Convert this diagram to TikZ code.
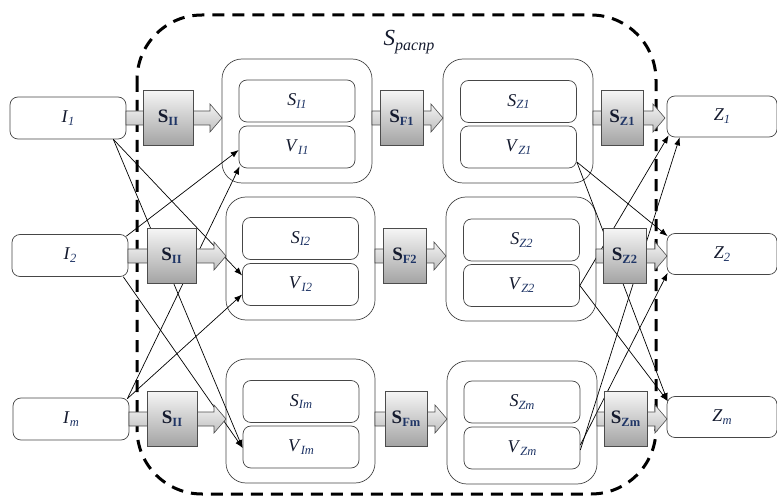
\documentclass[tikz,border=0pt]{standalone}
\usepackage{fontspec}
\setmainfont{Liberation Serif}
\usetikzlibrary{calc,arrows.meta}
\definecolor{navy}{HTML}{1F3566}
\definecolor{ink}{HTML}{141A2E}
\newcommand{\sublab}[2]{\textit{#1}\raisebox{-0.35ex}{\fontsize{12.5}{12.5}\selectfont\color{navy}\textit{#2}}}
\newcommand{\boldlab}[2]{\textbf{#1}\raisebox{-0.3ex}{\fontsize{12.5}{12.5}\selectfont\color{navy}\textbf{#2}}}
\tikzset{
  box/.style={draw=gray!55!black, line width=0.7pt, rounded corners=8pt, fill=white,
    minimum width=116pt, minimum height=42pt, inner sep=0pt,
    font=\fontsize{18}{21}\selectfont, text=ink},
  zbox/.style={box, minimum width=110pt, minimum height=41pt},
  group/.style={draw=gray!55!black, line width=0.7pt, rounded corners=20pt,
    inner sep=0pt},
  link/.style={-{Latex[length=8pt,width=6pt]}, line width=0.7pt, black},
  border/.style={line width=3pt, dash pattern=on 12pt off 8pt, rounded corners=65pt},
  shaftstyle/.style={top color=gray!10, bottom color=gray!50, draw=gray!60!black, line width=0.6pt},
  blockstyle/.style={top color=gray!8, bottom color=gray!72, draw=gray!60!black, line width=0.6pt},
  blabel/.style={font=\fontsize{19}{21}\selectfont, inner sep=0pt, text=ink}
}
% #1 name, #2 shaft start x, #3 box left, #4 box right, #5 tip x, #6 centre y, #7 label
\newcommand{\barrow}[7]{%
  \shadedraw[shaftstyle] (#2,#6-7) -- (#5-12,#6-7) -- (#5-12,#6-14) -- (#5,#6)
     -- (#5-12,#6+14) -- (#5-12,#6+7) -- (#2,#6+7) -- cycle;
  \shadedraw[blockstyle] (#3,#6-27.5) rectangle (#4,#6+27.5);
  \node[blabel] (#1) at ({(#3+#4)/2},#6) {#7};
}
\begin{document}
\begin{tikzpicture}[x=1pt,y=-1pt]
\useasboundingbox (0,0) rectangle (777,497);

% dashed boundary
\draw[border] (137,15) rectangle (656,494);

% group boxes
\node[group, minimum width=150pt, minimum height=124pt] (GI1) at (297,121) {};
\node[group, minimum width=149pt, minimum height=123pt] (GI2) at (300.5,258.5) {};
\node[group, minimum width=149pt, minimum height=124pt] (GIm) at (300.5,421) {};
\node[group, minimum width=150pt, minimum height=124pt] (GZ1) at (518,121) {};
\node[group, minimum width=150pt, minimum height=124pt] (GZ2) at (521,259) {};
\node[group, minimum width=150pt, minimum height=123pt] (GZm) at (522,422.5) {};

% inner boxes
\node[box] (SI1) at (297,101) {\sublab{S}{I1}};
\node[box] (VI1) at (297,147) {\sublab{V}{I1}};
\node[box] (SI2) at (300.5,238.5) {\sublab{S}{I2}};
\node[box] (VI2) at (300.5,284.5) {\sublab{V}{I2}};
\node[box] (SIm) at (301,401.5) {\sublab{S}{Im}};
\node[box] (VIm) at (301,447) {\sublab{V}{Im}};
\node[box] (SZ1) at (518.5,101.5) {\sublab{S}{Z1}};
\node[box] (VZ1) at (518.5,147) {\sublab{V}{Z1}};
\node[box] (SZ2) at (521.5,240) {\sublab{S}{Z2}};
\node[box] (VZ2) at (521.5,285.5) {\sublab{V}{Z2}};
\node[box] (SZm) at (522,402) {\sublab{S}{Zm}};
\node[box] (VZm) at (522,448) {\sublab{V}{Zm}};

% inputs and outputs
\node[box] (I1) at (68,118) {\sublab{I}{1}};
\node[box] (I2) at (70,255.5) {\sublab{I}{2}};
\node[box] (Im) at (71,419) {\sublab{I}{m}};
\node[zbox] (Z1) at (722,116.5) {\sublab{Z}{1}};
\node[zbox] (Z2) at (722,254) {\sublab{Z}{2}};
\node[zbox] (Zm) at (722,417) {\sublab{Z}{m}};

% cross connections, input side
\draw[link] ($(I1.south east)+(-13,0)$) -- ($(VI2.west)+(0,-9)$);
\draw[link] ($(I1.south east)+(-13,0)$) -- ($(VIm.west)+(0,1)$);
\draw[link] ($(I2.north east)+(-2,2)$) -- ($(VI1.west)+(0,3)$);
\draw[link] ($(I2.south east)+(-5,0)$) -- ($(VIm.west)+(0,1)$);
\draw[link] ($(Im.north east)+(-2,1)$) -- ($(VI1.south west)+(1,-2)$);
\draw[link] ($(Im.north east)+(-2,1)$) -- ($(VI2.west)+(0,10)$);

% cross connections, output side
\draw[link] ($(VZ1.east)+(0,15)$) -- ($(Z2.north west)+(1,3)$);
\draw[link] ($(VZ1.east)+(0,15)$) -- ($(Zm.north west)+(1,5)$);
\draw[link] (VZ2.east) -- ($(Z1.south west)+(2,-2)$);
\draw[link] (VZ2.east) -- ($(Zm.north west)+(1,5)$);
\draw[link] ($(VZm.east)+(0,2)$) -- ($(Z1.south west)+(13,0)$);
\draw[link] ($(VZm.east)+(0,-3)$) -- ($(Z2.south west)+(1,-2)$);

% block arrows
\barrow{AI1}{126}{143}{193}{222}{118}{\boldlab{S}{II}}
\barrow{AF1}{372}{380}{423}{443}{118}{\boldlab{S}{F1}}
\barrow{AZ1}{593}{601}{643}{665}{118}{\boldlab{S}{Z1}}
\barrow{AI2}{128}{147}{196}{226}{256}{\boldlab{S}{II}}
\barrow{AF2}{375}{383}{426}{446}{256}{\boldlab{S}{F2}}
\barrow{AZ2}{596}{603}{646}{667}{256}{\boldlab{S}{Z2}}
\barrow{AIm}{129}{147}{197}{226}{419}{\boldlab{S}{II}}
\barrow{AFm}{375}{385}{427}{447}{419}{\boldlab{S}{Fm}}
\barrow{AZm}{597}{604}{647}{667}{419}{\boldlab{S}{Zm}}

% title
\node[inner sep=0pt, text=ink] (title) at (409,42)
  {\fontsize{23}{26}\selectfont\textit{S}\raisebox{-0.4ex}{\fontsize{16}{16}\selectfont\textit{распр}}};
\end{tikzpicture}
\end{document}
